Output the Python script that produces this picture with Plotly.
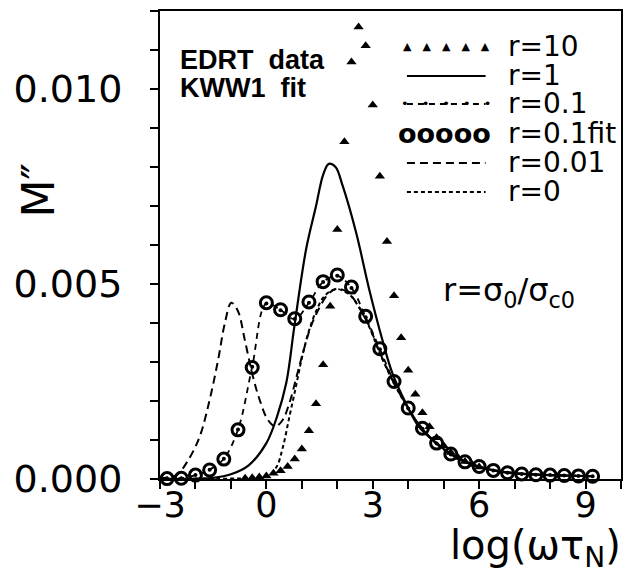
import plotly.graph_objects as go

# log(omega*tau_N) positions and electric modulus loss M'' for each r = sigma0/sigma_c0

# r = 10 (EDRT data, triangles)
x_r10 = [-0.6, -0.4, -0.2, 0.0, 0.2, 0.4, 0.6, 0.8, 1.0, 1.2, 1.4, 1.6, 1.8, 2.0, 2.2,
         2.4, 2.6, 2.8, 3.0, 3.2, 3.4, 3.6, 3.8, 4.0, 4.2, 4.4, 4.6, 4.8, 5.0, 5.2,
         5.4, 5.6, 5.8, 6.0]
y_r10 = [0.00002, 0.00003, 0.00005, 0.00008, 0.00015, 0.00021, 0.00032, 0.00051, 0.00077,
         0.00124, 0.00193, 0.00293, 0.00443, 0.00640, 0.00865, 0.01069, 0.01159, 0.01111,
         0.00959, 0.00776, 0.00609, 0.00470, 0.00362, 0.00279, 0.00217, 0.00170, 0.00134,
         0.00106, 0.00085, 0.00068, 0.00055, 0.00045, 0.00037, 0.00031]

# r = 1 (solid line)
x_r1 = [-3.0, -2.0, -1.5, -1.0, -0.5, 0.0, 0.3, 0.56, 0.79, 1.12, 1.4, 1.6, 1.76, 1.95,
        2.15, 2.53, 2.9, 3.27, 3.55, 3.93, 4.3, 4.8, 5.2, 5.6, 6.0, 6.5, 7.0, 8.0, 9.2]
y_r1 = [0.0, 0.00001, 0.00003, 0.00012, 0.00035, 0.00092, 0.00160, 0.00246, 0.00392,
        0.00589, 0.00700, 0.00780, 0.00808, 0.00800, 0.00752, 0.00632, 0.00486, 0.00357,
        0.00272, 0.00195, 0.00134, 0.00092, 0.00064, 0.00045, 0.00032, 0.00021, 0.00015,
        0.00010, 0.00007]

# r = 0.1 (data, dash with dots) and its KWW1 fit (open circles)
x_r01 = [-2.8, -2.4, -2.0, -1.6, -1.2, -0.8, -0.4, 0.0, 0.4, 0.8, 1.2, 1.6, 2.0, 2.4, 2.8,
         3.2, 3.6, 4.0, 4.4, 4.8, 5.2, 5.6, 6.0, 6.4, 6.8, 7.2, 7.6, 8.0, 8.4, 8.8, 9.2]
y_r01 = [0.00001, 0.00002, 0.00010, 0.00024, 0.00052, 0.00127, 0.00288, 0.00450, 0.00433,
         0.00410, 0.00452, 0.00505, 0.00521, 0.00490, 0.00415, 0.00333, 0.00249, 0.00181,
         0.00129, 0.00091, 0.00063, 0.00044, 0.00031, 0.00022, 0.00016, 0.00013, 0.00011,
         0.00010, 0.00009, 0.00008, 0.00007]
y_r01_fit = [0.00001, 0.00002, 0.00010, 0.00023, 0.00051, 0.00126, 0.00286, 0.00452, 0.00434,
             0.00411, 0.00454, 0.00506, 0.00523, 0.00492, 0.00417, 0.00334, 0.00250, 0.00182,
             0.00130, 0.00092, 0.00064, 0.00044, 0.00032, 0.00022, 0.00016, 0.00013, 0.00011,
             0.00010, 0.00009, 0.00008, 0.00007]

# r = 0.01 (dashed)
x_r001 = [-3.0, -2.8, -2.53, -2.2, -1.88, -1.6, -1.36, -1.17, -0.99, -0.8, -0.61, -0.38,
          -0.19, 0.04, 0.25, 0.45, 0.65, 0.85, 1.05, 1.25, 1.5, 1.75, 2.0, 2.3, 2.6, 2.9,
          3.2, 3.6, 4.0, 4.4, 4.8, 5.2, 5.6, 6.0, 6.5, 7.0, 8.0, 9.2]
y_r001 = [0.00002, 0.00004, 0.00010, 0.00049, 0.00109, 0.00203, 0.00306, 0.00400, 0.00452,
          0.00430, 0.00357, 0.00263, 0.00203, 0.00152, 0.00135, 0.00150, 0.00195, 0.00262,
          0.00330, 0.00390, 0.00440, 0.00475, 0.00488, 0.00478, 0.00443, 0.00392, 0.00324,
          0.00247, 0.00181, 0.00129, 0.00091, 0.00063, 0.00044, 0.00031, 0.00021, 0.00015,
          0.00010, 0.00007]

# r = 0 (dotted)
x_r0 = [-3.0, -1.0, -0.5, 0.0, 0.28, 0.46, 0.65, 0.84, 1.0, 1.2, 1.4, 1.6, 1.8, 2.0, 2.2,
        2.4, 2.6, 2.9, 3.2, 3.6, 4.0, 4.4, 4.8, 5.2, 5.6, 6.0, 6.5, 7.0, 8.0, 9.2]
y_r0 = [0.0, 0.00001, 0.00002, 0.00006, 0.00030, 0.00080, 0.00160, 0.00240, 0.00310, 0.00380,
        0.00430, 0.00465, 0.00481, 0.00487, 0.00481, 0.00468, 0.00442, 0.00390, 0.00322,
        0.00245, 0.00180, 0.00128, 0.00090, 0.00063, 0.00044, 0.00031, 0.00020, 0.00014,
        0.00010, 0.00007]

legend_labels = ["r=10", "r=1", "r=0.1", "r=0.1fit", "r=0.01", "r=0"]

FONT = "DejaVu Sans"
INK = "black"

fig = go.Figure()

fig.add_trace(go.Scatter(x=x_r0, y=y_r0, mode="lines", line=dict(color=INK, width=2, dash="4px,3px"),
                         line_shape="spline", cliponaxis=False))
fig.add_trace(go.Scatter(x=x_r001, y=y_r001, mode="lines", line=dict(color=INK, width=2, dash="8px,5px"),
                         line_shape="spline", cliponaxis=False))
fig.add_trace(go.Scatter(x=x_r1, y=y_r1, mode="lines", line=dict(color=INK, width=2.2),
                         line_shape="spline", cliponaxis=False))
fig.add_trace(go.Scatter(x=x_r01, y=y_r01, mode="lines+markers",
                         line=dict(color=INK, width=1.8, dash="6px,5px"), line_shape="spline",
                         marker=dict(size=4, color=INK), cliponaxis=False))
fig.add_trace(go.Scatter(x=x_r01, y=y_r01_fit, mode="markers",
                         marker=dict(symbol="circle-open", size=12, color=INK, line=dict(width=3, color=INK)),
                         cliponaxis=False))
fig.add_trace(go.Scatter(x=x_r10, y=y_r10, mode="markers",
                         marker=dict(symbol="triangle-up", size=9, color=INK), cliponaxis=True))

# Plot area in pixels: x 160..623, y 11..479
def px(xp):
    return (xp - 160) / 463.0

def py(yp):
    return (479 - yp) / 468.0

row_y = [47, 76, 104, 133, 163, 192]
key_x0, key_x1, text_x = 408, 487, 508
key_mid = (key_x0 + key_x1) / 2

shapes = []
annotations = []

for label, yrow in zip(legend_labels, row_y):
    annotations.append(dict(x=px(text_x), y=py(yrow), xref="paper", yref="paper", text=label,
                            showarrow=False, xanchor="left", yanchor="middle",
                            font=dict(family=FONT, size=28, color=INK)))

# legend keys
annotations.append(dict(x=px(key_mid), y=py(row_y[0]), xref="paper", yref="paper",
                        text="\u25B2\u2003\u25B2\u2003\u25B2\u2003\u25B2\u2003\u25B2",
                        showarrow=False, xanchor="center", yanchor="middle",
                        font=dict(family=FONT, size=11, color=INK)))
shapes.append(dict(type="line", xref="paper", yref="paper", x0=px(key_x0), x1=px(key_x1),
                   y0=py(row_y[1]), y1=py(row_y[1]), line=dict(color=INK, width=2.2)))
shapes.append(dict(type="line", xref="paper", yref="paper", x0=px(key_x0), x1=px(key_x1),
                   y0=py(row_y[2]), y1=py(row_y[2]), line=dict(color=INK, width=1.8, dash="6px,5px")))
annotations.append(dict(x=px(key_mid), y=py(row_y[2]), xref="paper", yref="paper",
                        text="\u2022\u2003\u2022\u2003\u2022\u2003\u2022\u2003\u2022",
                        showarrow=False, xanchor="center", yanchor="middle",
                        font=dict(family=FONT, size=13, color=INK)))
annotations.append(dict(x=px(key_mid - 2), y=py(row_y[3]), xref="paper", yref="paper",
                        text="<b>ooooo</b>", showarrow=False, xanchor="center", yanchor="middle",
                        font=dict(family=FONT, size=27, color=INK)))
shapes.append(dict(type="line", xref="paper", yref="paper", x0=px(key_x0), x1=px(key_x1),
                   y0=py(row_y[4]), y1=py(row_y[4]), line=dict(color=INK, width=2, dash="8px,5px")))
shapes.append(dict(type="line", xref="paper", yref="paper", x0=px(key_x0), x1=px(key_x1),
                   y0=py(row_y[5]), y1=py(row_y[5]), line=dict(color=INK, width=2, dash="4px,3px")))

# EDRT / KWW1 caption
annotations.append(dict(x=px(178), y=py(60), xref="paper", yref="paper",
                        text="<b>EDRT\u00a0\u00a0data</b>", showarrow=False,
                        xanchor="left", yanchor="middle",
                        font=dict(family="Liberation Sans", size=27, color=INK)))
annotations.append(dict(x=px(178), y=py(88), xref="paper", yref="paper",
                        text="<b>KWW1\u00a0\u00a0fit</b>", showarrow=False,
                        xanchor="left", yanchor="middle",
                        font=dict(family="Liberation Sans", size=27, color=INK)))

# definition of r
annotations.append(dict(x=px(442), y=py(292), xref="paper", yref="paper",
                        text="r=\u03c3<sub>0</sub>/\u03c3<sub>c0</sub>", showarrow=False,
                        xanchor="left", yanchor="middle",
                        font=dict(family=FONT, size=32, color=INK)))

# axis titles
annotations.append(dict(x=px(38), y=py(191), xref="paper", yref="paper",
                        text="M\u2033", textangle=-90, showarrow=False,
                        xanchor="center", yanchor="middle",
                        font=dict(family=FONT, size=44, color=INK)))
annotations.append(dict(x=px(625), y=py(520), xref="paper", yref="paper",
                        text="log(\u03c9\u03c4<sub>N</sub>)", showarrow=False,
                        xanchor="right", yanchor="top",
                        font=dict(family=FONT, size=40, color=INK)))

fig.update_layout(
    width=628, height=574,
    margin=dict(l=160, r=5, t=11, b=95),
    paper_bgcolor="white", plot_bgcolor="white",
    showlegend=False,
    shapes=shapes, annotations=annotations,
    xaxis=dict(range=[-3, 10], tick0=0, dtick=3, ticks="outside", ticklen=8, tickwidth=2,
               tickcolor=INK, showline=True, linecolor=INK, linewidth=2, mirror=True,
               showgrid=False, zeroline=False, ticklabelstandoff=-14,
               tickfont=dict(family=FONT, size=35, color=INK),
               minor=dict(dtick=1, ticks="outside", ticklen=8, tickwidth=2, tickcolor=INK, showgrid=False)),
    yaxis=dict(range=[0, 0.012], tick0=0, dtick=0.005, tickformat=".3f", ticks="outside",
               ticklen=8, tickwidth=2, tickcolor=INK, showline=True, linecolor=INK, linewidth=2,
               mirror=True, showgrid=False, zeroline=False, ticklabelstandoff=20,
               tickfont=dict(family=FONT, size=38, color=INK),
               minor=dict(dtick=0.001, ticks="outside", ticklen=8, tickwidth=2, tickcolor=INK, showgrid=False)),
)

fig.write_html("out.html")
